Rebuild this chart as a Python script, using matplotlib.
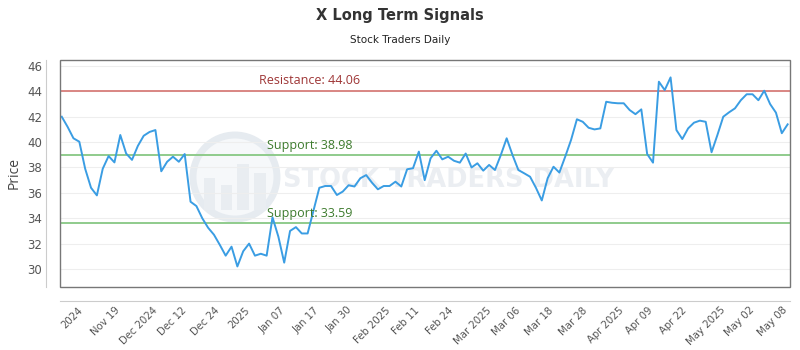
import numpy as np
import matplotlib
matplotlib.use("Agg")
import matplotlib.pyplot as plt
from matplotlib.patches import Rectangle, Ellipse

# =========================
# DATOS
# =========================

precios = [
    42.0, 41.2, 40.3, 40.03, 37.9, 36.4, 35.8, 37.9, 38.9, 38.4, 40.56, 39.1, 38.6, 39.7, 40.5, 40.8, 40.95, 37.7, 38.45, 38.85, 38.45,
    39.06, 35.3, 34.96, 34.0, 33.25, 32.7, 31.9, 31.05, 31.76, 30.2, 31.4, 32.0, 31.05, 31.2, 31.05, 34.07, 32.55, 30.5, 33.0, 33.3,
    32.8, 32.8, 34.6, 36.4, 36.54, 36.54, 35.83, 36.1, 36.6, 36.5, 37.15, 37.4, 36.8, 36.28, 36.54, 36.54, 36.88, 36.5, 37.86, 37.94, 39.25,
    37.0, 38.72, 39.32, 38.64, 38.85, 38.53, 38.38, 39.1, 38.0, 38.33, 37.75, 38.2, 37.8, 38.98, 40.3, 38.98, 37.8, 37.54, 37.27, 36.4,
    35.4, 37.15, 38.06, 37.6, 38.85, 40.17, 41.8, 41.6, 41.13, 41.0, 41.08, 43.18, 43.1, 43.06, 43.06, 42.53, 42.2, 42.58, 39.06, 38.38, 44.76,
    44.1, 45.1, 40.95, 40.24, 41.08, 41.53, 41.69, 41.6, 39.2, 40.56, 42.0, 42.35, 42.66, 43.3, 43.77, 43.77, 43.3, 44.05, 43.0, 42.32, 40.7, 41.4,
]

etiquetas_x = [
    "2024", "Nov 19", "Dec 2024", "Dec 12", "Dec 24", "2025", "Jan 07", "Jan 17",
    "Jan 30", "Feb 2025", "Feb 11", "Feb 24", "Mar 2025", "Mar 06", "Mar 18",
    "Mar 28", "Apr 2025", "Apr 09", "Apr 22", "May 2025", "May 02", "May 08",
]

resistencia = 44.06
soportes = [38.98, 33.59]

# =========================
# GRAFICO
# =========================

fig = plt.figure(figsize=(8, 3.5), dpi=100)
ax = fig.add_axes([0.075, 0.18, 0.9125, 0.65])

x = np.arange(len(precios))

# marca de agua
ax.add_patch(Ellipse((0.2397, 0.4835), 84 / 730, 84 / 227.5, transform=ax.transAxes,
                     facecolor="#f6f8fa", edgecolor="#e6ebf0", lw=5, zorder=0.2))
for bx, bh in [(0.205, 0.14), (0.228, 0.11), (0.251, 0.2), (0.274, 0.16)]:
    ax.add_patch(Rectangle((bx - 0.008, 0.34), 0.016, bh, transform=ax.transAxes,
                           facecolor="#e9edf1", edgecolor="none", zorder=0.3))
ax.text(0.532, 0.47, "STOCK TRADERS DAILY", transform=ax.transAxes,
        ha="center", va="center", fontsize=18.5, fontweight="bold",
        family="DejaVu Sans", color="#ebeef2", zorder=0.3)

ax.plot(x, precios, color="#3a9de3", lw=1.4, zorder=3)

ax.axhline(resistencia, color="#d98683", lw=1.4, zorder=2)
ax.text(42.4, resistencia + 0.25, f"Resistance: {resistencia:.2f}", ha="center", va="bottom",
        fontsize=9, family="Open Sans", color="#9e3535", zorder=4)
for s in soportes:
    ax.axhline(s, color="#8fcb8c", lw=1.4, zorder=2)
    ax.text(42.4, s + 0.25, f"Support: {s:.2f}", ha="center", va="bottom",
            fontsize=9, family="Open Sans", color="#3c7a2c", zorder=4)

ax.set_xlim(-0.3, len(precios) - 0.6)
ax.set_ylim(28.58, 46.51)
ax.set_yticks(np.arange(30, 47, 2))
ax.yaxis.grid(True, color="#eeeeee", lw=0.8)
ax.set_axisbelow(True)

ax.set_xticks(np.linspace(1.8, 121.5, len(etiquetas_x)))
ax.set_xticklabels(etiquetas_x)

ax.tick_params(axis="both", length=0, colors="#555555")
ax.tick_params(axis="y", pad=3, labelsize=8.5)
ax.tick_params(axis="x", pad=3, labelsize=7.3, labelrotation=45)
for lbl in ax.get_xticklabels():
    lbl.set_family("Open Sans")
    lbl.set_ha("right")
    lbl.set_rotation_mode("anchor")
for lbl in ax.get_yticklabels():
    lbl.set_family("Open Sans")

# caja del area del grafico y ejes desplazados
for lado in ["top", "right"]:
    ax.spines[lado].set_visible(False)
for lado in ["left", "bottom"]:
    ax.spines[lado].set_position(("outward", 10))
    ax.spines[lado].set_color("#cccccc")
ax.add_patch(Rectangle((0, 0), 1, 1, transform=ax.transAxes, fill=False,
                       edgecolor="#777777", lw=1, zorder=5, clip_on=False))

ax.set_ylabel("Price", fontsize=10, family="Open Sans", color="#444444", labelpad=4)

fig.text(0.5, 0.955, "X Long Term Signals", ha="center", va="center", fontsize=10.5,
         fontweight="bold", family="DejaVu Sans", color="#333333")
fig.text(0.5, 0.885, "Stock Traders Daily", ha="center", va="center", fontsize=7.5,
         family="DejaVu Sans", color="#222222")

fig.savefig("out.png", dpi=100)
